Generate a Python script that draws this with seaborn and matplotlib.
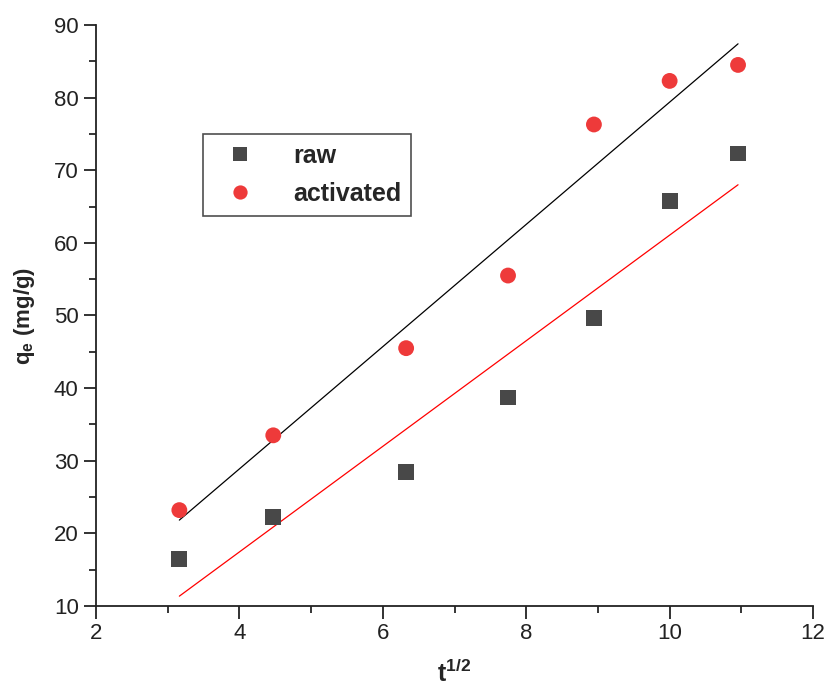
import numpy as np
import pandas as pd
import matplotlib
matplotlib.use("Agg")
import matplotlib.pyplot as plt
import seaborn as sns
from matplotlib.ticker import MultipleLocator

sns.set_style("ticks")
plt.rcParams['font.family'] = ['Liberation Sans', 'DejaVu Sans']
plt.rcParams['mathtext.fontset'] = 'custom'
plt.rcParams['mathtext.bf'] = 'Liberation Sans:bold'
plt.rcParams['mathtext.rm'] = 'Liberation Sans'

t_sqrt = [3.162, 4.472, 6.325, 7.746, 8.944, 10.0, 10.954]
raw = [16.5, 22.3, 28.5, 38.7, 49.6, 65.8, 72.3]
activated = [23.2, 33.5, 45.5, 55.5, 76.3, 82.3, 84.5]

df = pd.DataFrame({"x": t_sqrt * 2,
                   "q": raw + activated,
                   "series": ["raw"] * len(raw) + ["activated"] * len(activated)})

fig = plt.figure(figsize=(8.25, 6.92), dpi=100)
ax = fig.add_axes([0.1164, 0.1243, 0.8691, 0.8396])

sns.scatterplot(data=df, x="x", y="q", hue="series", style="series",
                palette={"raw": "#484848", "activated": "#ee3a3a"},
                markers={"raw": "s", "activated": "o"}, s=130, linewidth=0,
                ax=ax, zorder=3)

xs = np.array(t_sqrt)
for ys, col in [(raw, "#ff0000"), (activated, "#000000")]:
    k, b = np.polyfit(xs, np.array(ys), 1)
    ax.plot([xs[0], xs[-1]], [k * xs[0] + b, k * xs[-1] + b], color=col, lw=0.9, zorder=2)

ax.set_xlim(2, 12)
ax.set_ylim(10, 90)
ax.xaxis.set_major_locator(MultipleLocator(2))
ax.xaxis.set_minor_locator(MultipleLocator(1))
ax.yaxis.set_major_locator(MultipleLocator(10))
ax.yaxis.set_minor_locator(MultipleLocator(5))
ax.tick_params(which='major', direction='out', length=9, width=1.3, labelsize=16, colors='#222222')
ax.tick_params(which='minor', direction='out', length=5, width=1.3)
for s in ['top', 'right']:
    ax.spines[s].set_visible(False)
for s in ['left', 'bottom']:
    ax.spines[s].set_linewidth(1.3)
    ax.spines[s].set_color('#222222')

ax.set_xlabel(r"t$^{\mathbf{1/2}}$", fontsize=18, fontweight='bold', labelpad=11)
ax.set_ylabel(r"q$_{\mathbf{e}}$ (mg/g)", fontsize=16, fontweight='bold', labelpad=12)

handles, labels = ax.get_legend_handles_labels()
leg = ax.legend(handles, labels, loc='upper left', bbox_to_anchor=(0.149, 0.812),
                borderaxespad=0, frameon=True, fancybox=False, edgecolor='#222222',
                prop={'weight': 'bold', 'size': 18}, borderpad=0.4, handletextpad=1.0,
                labelspacing=0.55, markerscale=0.9, handlelength=2.2)
leg.get_frame().set_linewidth(1.2)

fig.savefig("out.png", dpi=100)
